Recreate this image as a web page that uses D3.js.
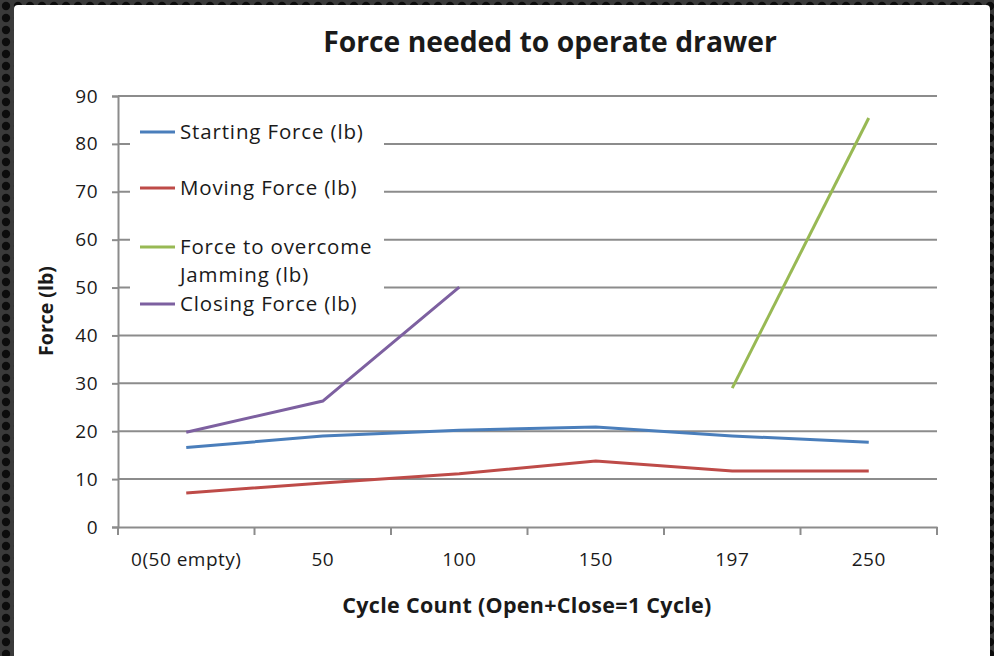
<!DOCTYPE html>
<html>
<head>
<meta charset="utf-8">
<script src="https://cdn.jsdelivr.net/npm/d3@7"></script>
<style>
  body { margin: 0; background: #222; }
  svg { display: block; }
  text { font-family: "Open Sans", Lato, sans-serif; fill: #1a1a1a; }
</style>
</head>
<body>
<div id="chart"></div>
<script>
// categories and values
var cycles = ["0(50 empty)", "50", "100", "150", "197", "250"];
var startingForce = [16.6, 19.0, 20.2, 20.9, 19.0, 17.7];
var movingForce = [7.1, 9.2, 11.1, 13.8, 11.7, 11.7];
var jammingForce = [null, null, null, null, 29.0, 85.4];
var closingForce = [19.8, 26.3, 50.1, null, null, null];
var seriesColors = ["#4a7ebb", "#be4b48", "#98b954", "#7d60a0"];
var yTicks = [0, 10, 20, 30, 40, 50, 60, 70, 80, 90];

var W = 994, H = 656;
var margin = { top: 96, right: 57, bottom: 129, left: 118 };
var width = W - margin.left - margin.right;
var height = H - margin.top - margin.bottom;

var svg = d3.select('#chart').append('svg')
    .attr("width", W)
    .attr("height", H);

// dark dotted frame
var defs = svg.append("defs");
var pat = defs.append("pattern")
    .attr("id", "dots")
    .attr("width", 12).attr("height", 12)
    .attr("patternUnits", "userSpaceOnUse");
pat.append("rect").attr("width", 12).attr("height", 12).attr("fill", "#3a3a3a");
pat.append("circle").attr("cx", 6).attr("cy", 6).attr("r", 4.2).attr("fill", "#0c0c0c");

svg.append("rect").attr("width", W).attr("height", H).attr("fill", "url(#dots)");
svg.append("rect")
    .attr("x", 14).attr("y", 5)
    .attr("width", 976).attr("height", H)
    .attr("rx", 4)
    .attr("fill", "#fff");

var g = svg.append("g")
    .attr("transform", "translate(" + margin.left + "," + margin.top + ")");

var x = d3.scaleBand()
    .domain(cycles)
    .range([0, width]);

var y = d3.scaleLinear()
    .domain([0, 90])
    .range([height, 0]);

// gridlines
g.append("g")
    .selectAll("line")
    .data(yTicks.slice(1))
    .enter().append("line")
    .attr("x1", 0).attr("x2", width)
    .attr("y1", function(d) { return y(d); })
    .attr("y2", function(d) { return y(d); })
    .attr("stroke", "#8c8c8c")
    .attr("stroke-width", 2);

// y axis
var yAxis = g.append("g")
    .call(d3.axisLeft(y).tickValues(yTicks).tickSize(6).tickPadding(14));
yAxis.select(".domain").attr("stroke", "#8c8c8c").attr("stroke-width", 2);
yAxis.selectAll(".tick line").attr("stroke", "#8c8c8c").attr("stroke-width", 2);
yAxis.selectAll("text").style("font-size", "19px").style("letter-spacing", "0.5px").attr("fill", "#262626");

// x axis, tick marks on the category boundaries
var xAxis = g.append("g")
    .attr("transform", "translate(0," + height + ")")
    .call(d3.axisBottom(x).tickSize(0).tickPadding(26));
xAxis.select(".domain").attr("stroke", "#8c8c8c").attr("stroke-width", 2);
xAxis.selectAll("text").style("font-size", "19px").style("letter-spacing", "0.5px").attr("fill", "#262626");
xAxis.selectAll(".bound")
    .data(d3.range(cycles.length + 1))
    .enter().append("line")
    .attr("x1", function(i) { return i * x.step(); })
    .attr("x2", function(i) { return i * x.step(); })
    .attr("y1", 0).attr("y2", 8)
    .attr("stroke", "#8c8c8c")
    .attr("stroke-width", 2);

// legend box (covers the gridlines)
var legend = g.append("g").attr("transform", "translate(12,12)");
legend.append("rect")
    .attr("width", 254).attr("height", 212)
    .attr("fill", "#fff");
var legendRows = [
    { y: 24, lines: ["Starting Force (lb)"] },
    { y: 80, lines: ["Moving Force (lb)"] },
    { y: 139, lines: ["Force to overcome", "Jamming (lb)"] },
    { y: 196, lines: ["Closing Force (lb)"] }
];
legendRows.forEach(function(r, i) {
    legend.append("line")
        .attr("x1", 10).attr("x2", 45)
        .attr("y1", r.y).attr("y2", r.y)
        .attr("stroke", seriesColors[i])
        .attr("stroke-width", 3);
    r.lines.forEach(function(t, j) {
        legend.append("text")
            .attr("x", 50)
            .attr("y", r.y + j * 28)
            .attr("dy", "0.35em")
            .style("font-size", "20.5px")
            .style("letter-spacing", "0.85px")
            .text(t);
    });
});

// lines
var allSeries = [startingForce, movingForce, jammingForce, closingForce];
var line = d3.line()
    .defined(function(d) { return d != null; })
    .x(function(d, i) { return x(cycles[i]) + x.bandwidth() / 2; })
    .y(function(d) { return y(d); });

g.selectAll(".series")
    .data(allSeries)
    .enter().append("path")
    .attr("class", "series")
    .attr("fill", "none")
    .attr("stroke", function(d, i) { return seriesColors[i]; })
    .attr("stroke-width", 3)
    .attr("d", line);

// titles
svg.append("text")
    .attr("x", 550).attr("y", 52)
    .attr("text-anchor", "middle")
    .style("font-size", "28.3px")
    .style("font-weight", "bold")
    .attr("fill", "#000")
    .text("Force needed to operate drawer");

svg.append("text")
    .attr("x", 527).attr("y", 613)
    .attr("text-anchor", "middle")
    .style("font-size", "21.5px")
    .style("font-weight", "bold")
    .style("letter-spacing", "0.3px")
    .attr("fill", "#111")
    .text("Cycle Count (Open+Close=1 Cycle)");

svg.append("text")
    .attr("transform", "translate(53,311) rotate(-90)")
    .attr("text-anchor", "middle")
    .style("font-size", "19.5px")
    .style("font-weight", "bold")
    .attr("fill", "#000")
    .text("Force (lb)");
</script>
</body>
</html>
